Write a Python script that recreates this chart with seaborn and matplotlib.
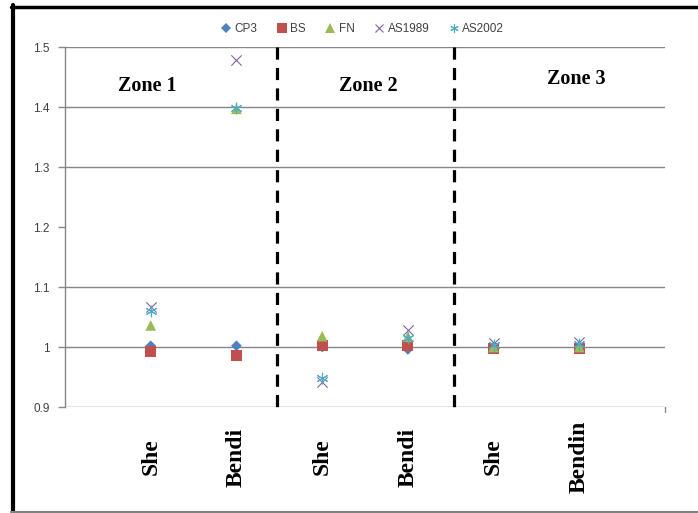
import numpy as np
import pandas as pd
import matplotlib
matplotlib.use("Agg")
import matplotlib.pyplot as plt
from matplotlib.lines import Line2D
import seaborn as sns

# ---- data ----
categories = ["She", "Bendi", "She", "Bendi", "She", "Bendin"]
positions = [0, 1, 2, 3, 4, 5]
series_names = ["CP3", "BS", "FN", "AS1989", "AS2002"]
cp3 = [1.002, 1.002, 1.000, 0.996, 1.000, 1.000]
bs = [0.992, 0.986, 1.002, 1.003, 0.997, 0.998]
fn = [1.036, 1.397, 1.018, 1.017, 1.000, 1.000]
as1989 = [1.066, 1.478, 0.941, 1.028, 1.006, 1.009]
as2002 = [1.060, 1.399, 0.948, 1.015, 1.003, 1.005]
zone_labels = ["Zone 1", "Zone 2", "Zone 3"]
y_ticks = [0.9, 1.0, 1.1, 1.2, 1.3, 1.4, 1.5]
y_tick_labels = ["0.9", "1", "1.1", "1.2", "1.3", "1.4", "1.5"]

values = {"CP3": cp3, "BS": bs, "FN": fn, "AS1989": as1989, "AS2002": as2002}
rows = []
for s in series_names:
    for p, v in zip(positions, values[s]):
        rows.append({"x": p, "y": v, "series": s})
df = pd.DataFrame(rows)

colors = {"CP3": "#4F81BD", "BS": "#C0504D", "FN": "#9BBB59",
          "AS1989": "#8064A2", "AS2002": "#4BACC6"}
markers = {"CP3": "D", "BS": "s", "FN": "^", "AS1989": "x", "AS2002": (6, 2, 0)}
sizes = {"CP3": 30, "BS": 60, "FN": 60, "AS1989": 55, "AS2002": 60}

sns.set_theme(style="white")
plt.rcParams["font.family"] = ["Liberation Sans", "DejaVu Sans"]

fig = plt.figure(figsize=(6.98, 5.13), dpi=100)
ax = fig.add_axes([65/698, 1-407/513, 600/698, 360/513])

for s in series_names:
    sub = df[df["series"] == s]
    if s in ("AS1989", "AS2002"):
        sns.scatterplot(data=sub, x="x", y="y", ax=ax, marker=markers[s],
                        color=colors[s], s=sizes[s], linewidth=0.8, legend=False, zorder=3)
    else:
        sns.scatterplot(data=sub, x="x", y="y", ax=ax, marker=markers[s],
                        color=colors[s], s=sizes[s], edgecolor="none", legend=False, zorder=3)

ax.set_xlim(-1, 6)
ax.set_ylim(0.9, 1.5)

# gridlines (no line at 1.2 in the reference)
for yv in y_ticks:
    if abs(yv - 1.2) > 1e-9:
        ax.axhline(yv, color="#868686", lw=1.0, zorder=1)

# zone separators
for xv in [1.474, 3.54]:
    ax.plot([xv, xv], [1.5, 0.895], color="black", lw=2.3, dashes=(3.8, 2.6),
            zorder=2, clip_on=False)

# zone labels
for lbl, (zx, zy) in zip(zone_labels, [(-0.04, 1.435), (2.54, 1.435), (4.96, 1.446)]):
    ax.text(zx, zy, lbl, ha="center", va="center", fontsize=14.5, fontweight="bold",
            family="Liberation Serif", color="black")

ax.set_yticks(y_ticks)
ax.set_yticklabels(y_tick_labels, fontsize=8.5, color="#404040")
ax.set_xticks(positions)
ax.set_xticklabels(categories, rotation=90, fontsize=17, fontweight="bold",
                   family="Liberation Serif", color="black", va="center", ha="center")
ax.tick_params(axis="x", length=0, pad=36)
ax.tick_params(axis="y", length=5, width=1, color="#868686", left=True, pad=6)
ax.set_xlabel("")
ax.set_ylabel("")

for side in ["top", "right", "bottom"]:
    ax.spines[side].set_visible(False)
ax.spines["left"].set_color("#868686")
ax.spines["left"].set_linewidth(1.0)
# small tick at right end of bottom axis
ax.plot([6, 6], [0.9, 0.892], color="#868686", lw=1.0, clip_on=False)

# legend
handles = []
for s in series_names:
    if s in ("AS1989", "AS2002"):
        h = Line2D([], [], marker=markers[s], color=colors[s], linestyle="none",
                   markersize=6, markeredgewidth=0.8)
    else:
        ms = 5 if s == "CP3" else 6.5
        h = Line2D([], [], marker=markers[s], color=colors[s], linestyle="none",
                   markersize=ms, markeredgewidth=0)
    handles.append(h)
fig.legend(handles, series_names, loc="center", bbox_to_anchor=(362/698, 1-29/513),
           ncol=5, frameon=False, fontsize=8.5, handletextpad=0.2, columnspacing=1.6,
           labelcolor="#404040", handlelength=1.0)

# figure border
fig.add_artist(Line2D([12.5/698, 12.5/698], [0, 1-5/513], transform=fig.transFigure,
                      color="black", lw=3))
fig.add_artist(Line2D([11/698, 1], [1-6.5/513, 1-6.5/513], transform=fig.transFigure,
                      color="black", lw=2.5))
fig.add_artist(Line2D([11/698, 1], [1.5/513, 1.5/513], transform=fig.transFigure,
                      color="#808080", lw=1.5))

fig.savefig("out.png", dpi=100, facecolor="white")
